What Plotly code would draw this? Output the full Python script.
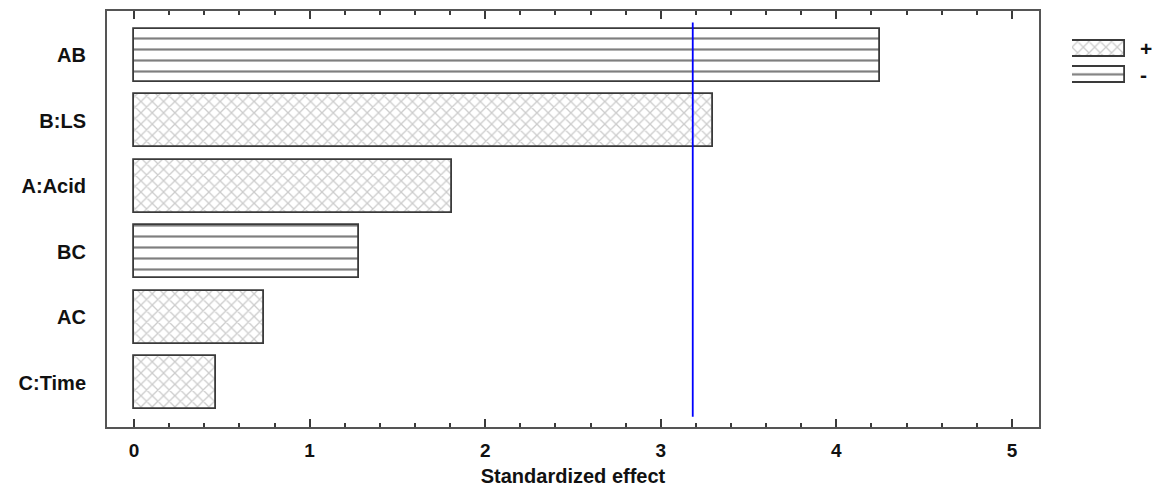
import plotly.graph_objects as go

# ---- data ----
factors = ["AB", "B:LS", "A:Acid", "BC", "AC", "C:Time"]
effects = [4.25, 3.30, 1.81, 1.28, 0.74, 0.465]
signs = ["-", "+", "+", "-", "+", "+"]
critical_t = 3.182
legend_labels = ["+", "-"]
x_tick_vals = [0, 1, 2, 3, 4, 5]

FONT = "Liberation Sans, Arial, sans-serif"
EDGE = "#3a3a3a"

pattern_for = {
    "+": dict(shape="x", fgcolor="#9a9a9a", bgcolor="white", size=8, solidity=0.3),
    "-": dict(shape="-", fgcolor="#000000", bgcolor="white", size=11, solidity=0.2),
}

fig = go.Figure()

idx = list(range(len(factors)))
for s in legend_labels:
    ys = [i for i in idx if signs[i] == s]
    xs = [effects[i] for i in idx if signs[i] == s]
    fig.add_trace(go.Bar(
        x=xs, y=ys, orientation="h", width=0.805,
        marker=dict(color="white", line=dict(color=EDGE, width=1.8),
                    pattern=pattern_for[s]),
        showlegend=False, hoverinfo="x+y",
    ))

# critical value reference line
fig.add_trace(go.Scatter(
    x=[critical_t, critical_t], y=[-0.5, 5.52], mode="lines",
    line=dict(color="#0000ff", width=1.8), showlegend=False, hoverinfo="skip",
))

# custom legend swatches on auxiliary axes
for j, s in enumerate(legend_labels):
    fig.add_trace(go.Bar(
        x=[1], y=[j], orientation="h", width=0.62,
        marker=dict(color="white", line=dict(color=EDGE, width=1.8),
                    pattern=pattern_for[s]),
        xaxis="x2", yaxis="y2", showlegend=False, hoverinfo="skip",
    ))

OFF = 8  # page body margin
W, H = 1152, 480
L = 107 - OFF
T = 9 - OFF
B = H - (427 - OFF)
R = 10
pw = W - L - R
ph = H - T - B

def xf(px):
    return (px - OFF - L) / pw

def yf(py):
    return (H - B - (py - OFF)) / ph

fig.update_layout(
    width=W, height=H,
    margin=dict(l=L, r=R, t=T, b=B, pad=0),
    plot_bgcolor="white", paper_bgcolor="white",
    bargap=0,
    font=dict(family=FONT, size=19, color="#111"),
    xaxis=dict(
        domain=[0, xf(1039)],
        range=[-0.154, 5.154],
        tickvals=x_tick_vals,
        ticks="inside", ticklen=8, tickwidth=1.6, tickcolor=EDGE,
        minor=dict(dtick=0.2, ticks="inside", ticklen=4, tickwidth=1.6, tickcolor=EDGE),
        showline=True, linecolor="#555", linewidth=2, mirror="ticks",
        showgrid=False, zeroline=False,
        tickfont=dict(family=FONT, size=19, color="#111", weight="bold"),
        title=dict(text="<b>Standardized effect</b>", font=dict(family=FONT, size=20, color="#111"),
                   standoff=9),
        ticklabelstandoff=5,
    ),
    yaxis=dict(
        domain=[0, 1],
        range=[5.676, -0.676],
        tickvals=idx, ticktext=factors,
        ticks="", showline=True, linecolor="#555", linewidth=2, mirror=True,
        showgrid=False, zeroline=False,
        tickfont=dict(family=FONT, size=20, color="#111", weight="bold"),
        ticklabelstandoff=15,
    ),
    xaxis2=dict(
        domain=[xf(1072), xf(1125)], range=[0, 1], anchor="y2",
        showgrid=False, zeroline=False, showticklabels=False, showline=False, fixedrange=True,
    ),
    yaxis2=dict(
        domain=[yf(86), yf(34)], range=[1.5, -0.5], anchor="x2", side="right",
        tickvals=[0, 1], ticktext=legend_labels,
        showgrid=False, zeroline=False, showline=False, ticks="",
        tickfont=dict(family=FONT, size=21, color="#111", weight="bold"),
        ticklabelstandoff=14, fixedrange=True,
    ),
)

fig.write_html("out.html")
